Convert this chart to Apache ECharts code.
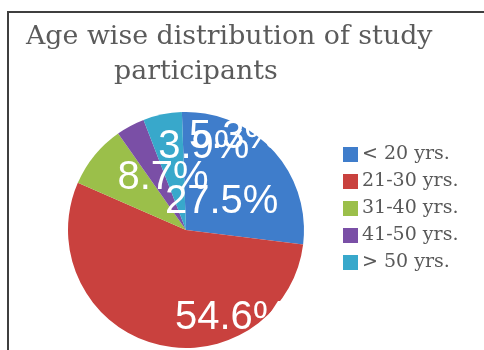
<!DOCTYPE html>
<html>
<head>
  <meta charset="UTF-8">
  <title>Age wise distribution</title>
  <script src="https://cdn.jsdelivr.net/npm/echarts@6/dist/echarts.min.js"></script>
  <style>
    html, body { margin: 0; padding: 0; background: #fff; }
    #main { width: 484px; height: 350px; }
  </style>
</head>
<body>
  <div id="main"></div>
  <script type="text/javascript">
    // data
    var categories = ['< 20 yrs.', '21-30 yrs.', '31-40 yrs.', '41-50 yrs.', '> 50 yrs.'];
    var percents = [27.5, 54.6, 8.7, 3.9, 5.3];

    var colorList = ['#3f7dcb', '#c9413e', '#9bbf4a', '#7a4fa6', '#38a8cb'];
    // nudges for the inside labels (excel put them off-centre)
    var labelShift = [[-10, 14], [62, 28], [25, -13], [47, -28], [61, -32]];

    var myChart = echarts.init(document.getElementById('main'));

    var pieData = categories.map(function (name, i) {
      return { name: name, value: percents[i] };
    });

    var titleStyle = { fontFamily: 'DejaVu Serif', fontSize: 26.8, fontWeight: 'normal', color: '#5b5b5b' };

    var option = {
      animation: false,
      color: colorList,
      title: [{
        text: 'Age wise distribution of study',
        left: 21,
        top: 19,
        textStyle: titleStyle
      }, {
        text: 'participants',
        left: 109,
        top: 54,
        textStyle: titleStyle
      }],
      legend: {
        orient: 'vertical',
        left: 343,
        top: 145,
        padding: 0,
        itemWidth: 15,
        itemHeight: 15,
        itemGap: 8,
        icon: 'rect',
        data: categories,
        textStyle: { fontFamily: 'DejaVu Serif', fontSize: 19, color: '#595959', padding: [0, 0, 0, -1] }
      },
      graphic: [{
        type: 'rect',
        z: -1,
        shape: { x: 8, y: 12, width: 600, height: 600 },
        style: { fill: 'none', stroke: '#3f3f3f', lineWidth: 2 }
      }],
      series: [{
        type: 'pie',
        center: [186, 230],
        radius: 118,
        startAngle: 92,
        clockwise: true,
        label: {
          show: true,
          position: 'inside',
          formatter: function (p) { return p.value.toFixed(1) + '%'; },
          color: '#fff',
          fontFamily: 'Liberation Sans',
          fontSize: 40
        },
        labelLayout: function (params) {
          var s = labelShift[params.dataIndex];
          return { dx: s[0], dy: s[1] };
        },
        labelLine: { show: false },
        emphasis: { disabled: true },
        data: pieData
      }]
    };

    myChart.setOption(option);
  </script>
</body>
</html>
